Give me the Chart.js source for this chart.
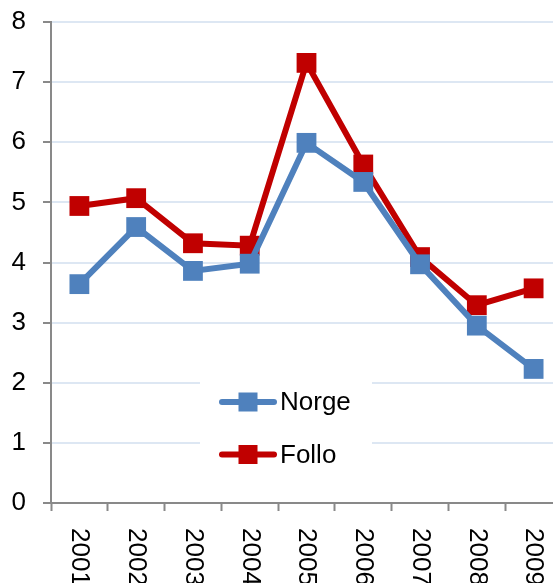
<!DOCTYPE html>
<html lang="no">
<head>
    <meta charset="UTF-8">
    <script src="https://cdn.jsdelivr.net/npm/chart.js@4.4.0/dist/chart.umd.min.js"></script>
    <style>
        html, body {
            margin: 0;
            padding: 0;
            overflow: hidden;
            background: #fff;
        }

        #chart {
            position: absolute;
            left: 0;
            top: 0;
        }
    </style>
    <title>Norge og Follo</title>
</head>
<body>
    <canvas id="chart" width="562" height="583"></canvas>

    <script>
        const years = ['2001', '2002', '2003', '2004', '2005', '2006', '2007', '2008', '2009'];
        const norge = [3.64, 4.59, 3.86, 3.98, 5.99, 5.34, 3.97, 2.95, 2.23];
        const follo = [4.94, 5.07, 4.32, 4.28, 7.32, 5.63, 4.09, 3.29, 3.57];
        const yTicks = [0, 1, 2, 3, 4, 5, 6, 7, 8];

        const blue = '#4f81bd';
        const red = '#c00000';
        const axisGray = '#898989';
        const gridBlue = '#dde7f3';
        const fontFamily = '"Liberation Sans", Arial, sans-serif';

        // x labels read top to bottom, so they are drawn here instead of by the axis
        const xLabelPlugin = {
            id: 'xLabels',
            afterDraw(chart) {
                const ctx = chart.ctx;
                const scale = chart.scales.x;
                ctx.save();
                ctx.fillStyle = '#000';
                ctx.font = '26px ' + fontFamily;
                ctx.textAlign = 'left';
                ctx.textBaseline = 'middle';
                years.forEach((label, i) => {
                    const x = scale.getPixelForValue(i);
                    ctx.save();
                    ctx.translate(x, 528);
                    ctx.rotate(Math.PI / 2);
                    ctx.fillText(label, 0, 0);
                    ctx.restore();
                });
                ctx.restore();
            }
        };

        // legend box sitting inside the plot area
        const legendPlugin = {
            id: 'innerLegend',
            afterDraw(chart) {
                const ctx = chart.ctx;
                ctx.save();
                ctx.fillStyle = '#fff';
                ctx.fillRect(200, 374, 172, 110);

                chart.data.datasets.forEach((ds, i) => {
                    const y = 402 + i * 52.5;
                    ctx.strokeStyle = ds.borderColor;
                    ctx.lineWidth = 6;
                    ctx.lineCap = 'round';
                    ctx.beginPath();
                    ctx.moveTo(222, y);
                    ctx.lineTo(274, y);
                    ctx.stroke();
                    ctx.fillStyle = ds.borderColor;
                    ctx.fillRect(238.5, y - 9.5, 19, 19);
                    ctx.fillStyle = '#000';
                    ctx.font = '26px ' + fontFamily;
                    ctx.textAlign = 'left';
                    ctx.textBaseline = 'middle';
                    ctx.fillText(ds.label, 280, y + 1);
                });
                ctx.restore();
            }
        };

        const ctx = document.getElementById('chart').getContext('2d');
        new Chart(ctx, {
            type: 'line',
            data: {
                labels: years,
                datasets: [
                    {
                        label: 'Norge',
                        data: norge,
                        borderColor: blue,
                        backgroundColor: blue,
                        borderWidth: 6,
                        pointStyle: 'rect',
                        pointRadius: 14,
                        pointBorderWidth: 0,
                        tension: 0
                    },
                    {
                        label: 'Follo',
                        data: follo,
                        borderColor: red,
                        backgroundColor: red,
                        borderWidth: 6,
                        pointStyle: 'rect',
                        pointRadius: 14,
                        pointBorderWidth: 0,
                        tension: 0
                    }
                ]
            },
            options: {
                responsive: false,
                animation: false,
                layout: {
                    autoPadding: false,
                    padding: { top: 22, right: 0, left: 0, bottom: 0 }
                },
                plugins: {
                    legend: { display: false },
                    tooltip: { enabled: false }
                },
                scales: {
                    x: {
                        offset: true,
                        grid: {
                            offset: true,
                            drawOnChartArea: false,
                            tickLength: 8,
                            tickColor: axisGray,
                            tickWidth: 2
                        },
                        border: { color: axisGray, width: 2 },
                        ticks: { display: false },
                        afterFit(scale) {
                            scale.height = 80;
                        }
                    },
                    y: {
                        min: 0,
                        max: 8,
                        afterBuildTicks(scale) {
                            scale.ticks = yTicks.map(v => ({ value: v }));
                        },
                        grid: {
                            color: gridBlue,
                            lineWidth: 2,
                            tickLength: 8,
                            tickColor: axisGray,
                            tickWidth: 2
                        },
                        border: { color: axisGray, width: 2 },
                        ticks: {
                            color: '#000',
                            padding: 17,
                            font: { size: 26, family: fontFamily }
                        },
                        afterFit(scale) {
                            scale.width = 51;
                            scale.paddingTop = 0;
                            scale.paddingBottom = 0;
                        }
                    }
                }
            },
            plugins: [xLabelPlugin, legendPlugin]
        });
    </script>
</body>
</html>
